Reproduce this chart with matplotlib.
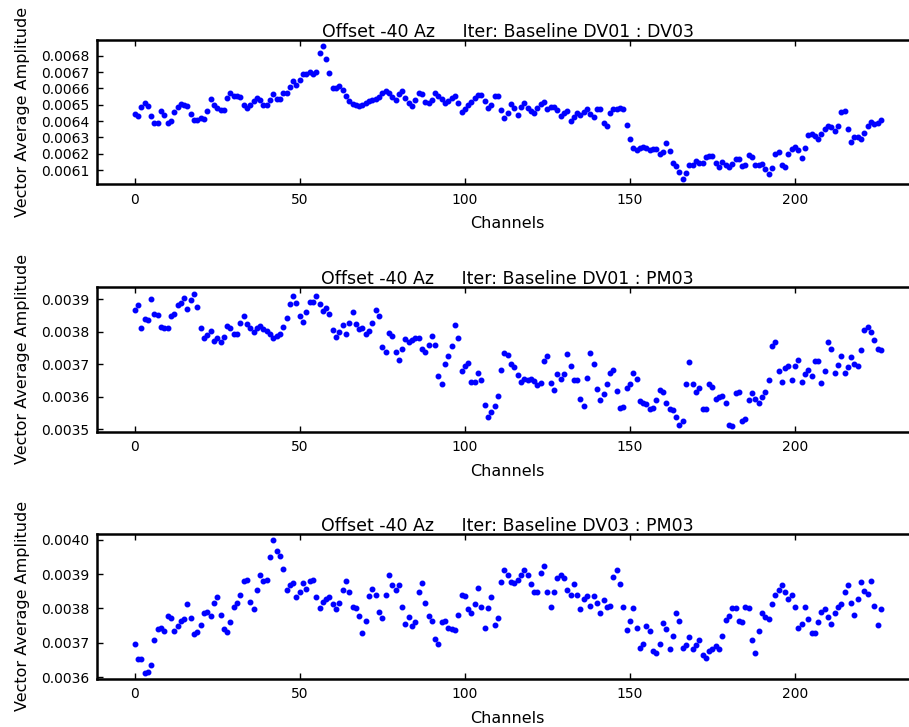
import matplotlib
matplotlib.use("Agg")
import matplotlib.pyplot as plt
import numpy as np
from matplotlib.ticker import MultipleLocator, FormatStrFormatter

# vector averaged amplitude per channel for each baseline
channels = np.arange(227)

amp_dv01_dv03 = [
    0.006446, 0.006429, 0.006484, 0.006511, 0.006492, 0.006429, 0.006389, 0.006387, 0.006462, 0.006440,
    0.006389, 0.006403, 0.006456, 0.006484, 0.006503, 0.006500, 0.006490, 0.006446, 0.006405, 0.006407,
    0.006420, 0.006410, 0.006462, 0.006533, 0.006500, 0.006478, 0.006468, 0.006468, 0.006539, 0.006574,
    0.006552, 0.006554, 0.006550, 0.006499, 0.006482, 0.006499, 0.006525, 0.006541, 0.006529, 0.006500,
    0.006499, 0.006531, 0.006564, 0.006533, 0.006533, 0.006572, 0.006572, 0.006610, 0.006645, 0.006619,
    0.006651, 0.006686, 0.006686, 0.006700, 0.006688, 0.006700, 0.006818, 0.006861, 0.006780, 0.006692,
    0.006604, 0.006600, 0.006612, 0.006588, 0.006556, 0.006521,
    0.006505, 0.006497, 0.006492, 0.006500, 0.006509, 0.006520, 0.006529, 0.006533, 0.006550, 0.006574,
    0.006584, 0.006574, 0.006550, 0.006529, 0.006566, 0.006586, 0.006539, 0.006513, 0.006492, 0.006529,
    0.006570, 0.006564, 0.006519, 0.006509, 0.006529, 0.006572, 0.006554, 0.006533, 0.006509, 0.006525,
    0.006539, 0.006554, 0.006513, 0.006458, 0.006472, 0.006499, 0.006519, 0.006539, 0.006558, 0.006560,
    0.006525, 0.006478, 0.006499, 0.006554, 0.006554, 0.006468, 0.006421, 0.006452, 0.006505, 0.006482,
    0.006438, 0.006484, 0.006513, 0.006478, 0.006462, 0.006452, 0.006480, 0.006505, 0.006517, 0.006472,
    0.006484, 0.006484, 0.006468, 0.006431, 0.006452, 0.006462, 0.006403, 0.006423, 0.006448, 0.006438,
    0.006458, 0.006472, 0.006442, 0.006427, 0.006472, 0.006476, 0.006391, 0.006370, 0.006452, 0.006472,
    0.006476,
    0.006478, 0.006472, 0.006376, 0.006290, 0.006235, 0.006224, 0.006234, 0.006244, 0.006234, 0.006224,
    0.006230, 0.006232, 0.006199, 0.006213, 0.006268, 0.006220, 0.006142, 0.006126, 0.006091, 0.006046,
    0.006085, 0.006132, 0.006132, 0.006158, 0.006146, 0.006142, 0.006183, 0.006187, 0.006187, 0.006142,
    0.006118, 0.006148, 0.006132, 0.006118, 0.006138, 0.006167, 0.006167, 0.006128, 0.006132, 0.006193,
    0.006183, 0.006132, 0.006132, 0.006138, 0.006105, 0.006077, 0.006112, 0.006199, 0.006213, 0.006132,
    0.006118, 0.006199, 0.006228, 0.006244, 0.006224, 0.006173, 0.006234, 0.006315, 0.006321, 0.006309,
    0.006289, 0.006321, 0.006350, 0.006370, 0.006362, 0.006342, 0.006370, 0.006456, 0.006464, 0.006350,
    0.006275, 0.006301, 0.006301, 0.006293, 0.006325, 0.006370, 0.006397, 0.006382, 0.006387, 0.006407,
]

amp_dv01_pm03 = [
    0.003867, 0.003882, 0.003812, 0.003839, 0.003835, 0.003899, 0.003855, 0.003851, 0.003815, 0.003812,
    0.003812, 0.003847, 0.003855, 0.003883, 0.003887, 0.003904, 0.003870, 0.003896, 0.003915, 0.003875,
    0.003812, 0.003779, 0.003789, 0.003803, 0.003771, 0.003779, 0.003767, 0.003782, 0.003816, 0.003812,
    0.003791, 0.003794, 0.003827, 0.003847, 0.003822, 0.003812, 0.003798, 0.003812, 0.003816, 0.003807,
    0.003803, 0.003794, 0.003779, 0.003787, 0.003791, 0.003815, 0.003843, 0.003884, 0.003910, 0.003887,
    0.003847, 0.003830, 0.003859, 0.003892, 0.003892, 0.003908, 0.003884, 0.003863, 0.003874, 0.003853,
    0.003804, 0.003783, 0.003799, 0.003820, 0.003791, 0.003825,
    0.003859, 0.003822, 0.003808, 0.003812, 0.003794, 0.003802, 0.003827, 0.003867, 0.003847, 0.003752,
    0.003738, 0.003797, 0.003785, 0.003738, 0.003711, 0.003746, 0.003777, 0.003767, 0.003775, 0.003779,
    0.003781, 0.003746, 0.003738, 0.003758, 0.003787, 0.003758, 0.003664, 0.003639, 0.003699, 0.003724,
    0.003756, 0.003820, 0.003779, 0.003678, 0.003695, 0.003703, 0.003644, 0.003644, 0.003674, 0.003650,
    0.003574, 0.003538, 0.003553, 0.003570, 0.003603, 0.003683, 0.003735, 0.003728, 0.003701, 0.003691,
    0.003666, 0.003646, 0.003654, 0.003652, 0.003654, 0.003648, 0.003635, 0.003643, 0.003709, 0.003724,
    0.003642, 0.003621, 0.003670, 0.003654, 0.003670, 0.003730, 0.003695, 0.003651, 0.003651, 0.003594,
    0.003570, 0.003658, 0.003734, 0.003699, 0.003622, 0.003590, 0.003607, 0.003638, 0.003674, 0.003682,
    0.003617,
    0.003564, 0.003569, 0.003625, 0.003639, 0.003674, 0.003654, 0.003586, 0.003579, 0.003578, 0.003562,
    0.003566, 0.003590, 0.003619, 0.003615, 0.003579, 0.003562, 0.003558, 0.003538, 0.003514, 0.003526,
    0.003638, 0.003707, 0.003638, 0.003613, 0.003625, 0.003562, 0.003562, 0.003638, 0.003631, 0.003594,
    0.003599, 0.003603, 0.003579, 0.003514, 0.003510, 0.003610, 0.003613, 0.003525, 0.003530, 0.003589,
    0.003610, 0.003592, 0.003579, 0.003599, 0.003615, 0.003651, 0.003755, 0.003767, 0.003678, 0.003646,
    0.003687, 0.003695, 0.003650, 0.003695, 0.003711, 0.003646, 0.003670, 0.003683, 0.003662, 0.003709,
    0.003709, 0.003643, 0.003678, 0.003767, 0.003746, 0.003674, 0.003697, 0.003726, 0.003674, 0.003691,
    0.003723, 0.003699, 0.003695, 0.003742, 0.003804, 0.003815, 0.003799, 0.003774, 0.003746, 0.003742,
]

amp_dv03_pm03 = [
    0.003697, 0.003653, 0.003653, 0.003614, 0.003616, 0.003637, 0.003709, 0.003740, 0.003744, 0.003736,
    0.003777, 0.003773, 0.003736, 0.003748, 0.003764, 0.003769, 0.003812, 0.003773, 0.003725, 0.003732,
    0.003752, 0.003786, 0.003789, 0.003777, 0.003816, 0.003832, 0.003781, 0.003740, 0.003732, 0.003760,
    0.003804, 0.003816, 0.003839, 0.003880, 0.003883, 0.003820, 0.003797, 0.003854, 0.003896, 0.003880,
    0.003883, 0.003948, 0.003998, 0.003968, 0.003952, 0.003915, 0.003854, 0.003869, 0.003873, 0.003832,
    0.003847, 0.003873, 0.003857, 0.003880, 0.003884, 0.003832, 0.003800, 0.003818, 0.003828, 0.003832,
    0.003812, 0.003797, 0.003816, 0.003854, 0.003880, 0.003847,
    0.003804, 0.003800, 0.003778, 0.003728, 0.003765, 0.003836, 0.003857, 0.003839, 0.003791, 0.003773,
    0.003839, 0.003896, 0.003867, 0.003854, 0.003867, 0.003804, 0.003755, 0.003774, 0.003750, 0.003760,
    0.003847, 0.003873, 0.003816, 0.003777, 0.003765, 0.003711, 0.003697, 0.003762, 0.003765, 0.003744,
    0.003740, 0.003738, 0.003781, 0.003839, 0.003835, 0.003799, 0.003786, 0.003812, 0.003859, 0.003804,
    0.003744, 0.003800, 0.003832, 0.003752, 0.003771, 0.003876, 0.003912, 0.003896, 0.003876, 0.003873,
    0.003884, 0.003898, 0.003911, 0.003896, 0.003871, 0.003847, 0.003847, 0.003904, 0.003924, 0.003847,
    0.003804, 0.003847, 0.003888, 0.003898, 0.003888, 0.003854, 0.003839, 0.003871, 0.003839, 0.003797,
    0.003828, 0.003836, 0.003808, 0.003835, 0.003816, 0.003786, 0.003824, 0.003804, 0.003808, 0.003892,
    0.003911, 0.003871, 0.003804, 0.003737,
    0.003764, 0.003800, 0.003744, 0.003686, 0.003698, 0.003750, 0.003736, 0.003676, 0.003671, 0.003697,
    0.003757, 0.003740, 0.003683, 0.003721, 0.003786, 0.003765, 0.003686, 0.003693, 0.003717, 0.003682,
    0.003693, 0.003709, 0.003664, 0.003656, 0.003676, 0.003682, 0.003690, 0.003682, 0.003721, 0.003766,
    0.003777, 0.003800, 0.003800, 0.003765, 0.003762, 0.003804, 0.003800, 0.003709, 0.003671, 0.003736,
    0.003786, 0.003775, 0.003769, 0.003812, 0.003839, 0.003853, 0.003869, 0.003847, 0.003828, 0.003839,
    0.003804, 0.003742, 0.003754, 0.003804, 0.003769, 0.003728, 0.003728, 0.003760, 0.003791, 0.003799,
    0.003775, 0.003756, 0.003786, 0.003804, 0.003812, 0.003849, 0.003869, 0.003815, 0.003781, 0.003828,
    0.003876, 0.003851, 0.003843, 0.003880, 0.003808, 0.003752, 0.003797,
]

baselines = ["DV01 : DV03", "DV01 : PM03", "DV03 : PM03"]
series = [amp_dv01_dv03, amp_dv01_pm03, amp_dv03_pm03]
y_limits = [(0.006014, 0.006898), (0.003492, 0.003937), (0.003596, 0.004016)]

plt.rcParams['font.family'] = 'DejaVu Sans'

fig = plt.figure(figsize=(9.09, 7.27), dpi=100)
fig.patch.set_facecolor('white')

# axes run a little past the right edge of the canvas
bottoms = [0.7465, 0.4062, 0.0664]
for bottom, name, amp, ylim in zip(bottoms, baselines, series, y_limits):
    ax = fig.add_axes([0.1071, bottom, 0.903, 0.1990])
    ax.plot(channels, amp, 'b.', markersize=6.5)
    ax.margins(x=0.05)
    ax.set_ylim(ylim)
    ax.set_title("Offset -40 Az     Iter: Baseline " + name, fontsize=12.5, pad=2)
    ax.set_xlabel("Channels", fontsize=11.5, labelpad=7)
    ax.set_ylabel("Vector Average Amplitude", fontsize=11.5, labelpad=8)
    ax.xaxis.set_major_locator(MultipleLocator(50))
    ax.yaxis.set_major_locator(MultipleLocator(0.0001))
    ax.yaxis.set_major_formatter(FormatStrFormatter('%.4f'))
    ax.tick_params(direction='in', length=4.5, width=1, top=True, right=True,
                   labelsize=10, pad=6)
    for sp in ax.spines.values():
        sp.set_linewidth(1.8)

fig.savefig("out.png", dpi=100, facecolor='white')
